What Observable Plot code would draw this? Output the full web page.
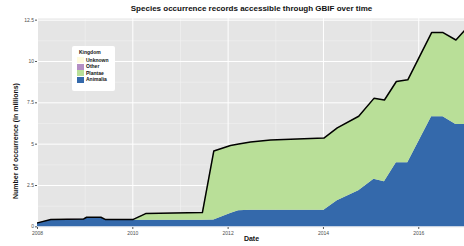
<!DOCTYPE html>
<html>
<head>
<meta charset="utf-8">
<script src="https://cdn.jsdelivr.net/npm/d3@7"></script>
<script src="https://cdn.jsdelivr.net/npm/@observablehq/plot@0.6"></script>
<style>
  html, body { margin: 0; padding: 0; background: #fff; }
  #wrap { position: relative; width: 464px; height: 246px; overflow: hidden; font-family: "Liberation Sans", Arial, sans-serif; }
  .title { position: absolute; left: 0; width: 503px; top: 4px; text-align: center; font-weight: bold; font-size: 8px; color: #111; white-space: nowrap; }
  .xlab { position: absolute; left: 0; width: 503px; top: 235px; text-align: center; font-weight: bold; font-size: 7px; color: #111; }
  .ylab { position: absolute; left: 15px; top: 141px; transform: translate(-50%, -50%) rotate(-90deg); font-weight: bold; font-size: 7px; color: #111; white-space: nowrap; }
  .legend { position: absolute; left: 72px; top: 46px; width: 43px; height: 45px; background: #fff; border-radius: 2px; }
  .legend .lt { position: absolute; left: 7px; top: 3px; font-weight: bold; font-size: 5px; color: #111; }
  .legend .row { position: absolute; left: 5px; height: 6px; }
  .legend .sw { position: absolute; left: 0; top: 0; width: 7px; height: 6px; }
  .legend .lb { position: absolute; left: 9px; top: -0.5px; font-size: 5px; font-weight: bold; color: #111; white-space: nowrap; line-height: 7px; }
</style>
</head>
<body>
<div id="wrap"></div>
<script>
// ---- data ----
const dates = [2008.0, 2008.28, 2008.97, 2009.03, 2009.33, 2009.43, 2010.0, 2010.27, 2011.46, 2011.70, 2012.05, 2012.22, 2012.47, 2012.89, 2014.01, 2014.29, 2014.74, 2015.06, 2015.28, 2015.53, 2015.77, 2016.27, 2016.51, 2016.78, 2016.97];
const animalia = [0.21, 0.41, 0.45, 0.55, 0.55, 0.41, 0.40, 0.40, 0.40, 0.42, 0.80, 0.98, 1.00, 1.00, 1.01, 1.58, 2.18, 2.88, 2.72, 3.88, 3.88, 6.66, 6.66, 6.19, 6.19];
const plantae  = [0.01, 0.01, 0.01, 0.01, 0.01, 0.01, 0.02, 0.38, 0.44, 4.15, 4.10, 4.01, 4.11, 4.23, 4.34, 4.39, 4.49, 4.87, 4.93, 4.89, 4.99, 5.07, 5.07, 5.09, 5.69];
const other    = [0.01, 0.01, 0.01, 0.01, 0.01, 0.01, 0.01, 0.01, 0.01, 0.01, 0.01, 0.01, 0.01, 0.01, 0.01, 0.01, 0.01, 0.01, 0.01, 0.01, 0.01, 0.01, 0.01, 0.01, 0.01];
const unknown  = [0.01, 0.01, 0.01, 0.01, 0.01, 0.01, 0.01, 0.01, 0.01, 0.01, 0.01, 0.01, 0.01, 0.01, 0.01, 0.01, 0.01, 0.01, 0.01, 0.01, 0.01, 0.01, 0.01, 0.01, 0.01];
const kingdoms = ["Unknown", "Other", "Plantae", "Animalia"];
const kingdomColors = ["#fffbdc", "#b48fc4", "#b9df98", "#3469ab"];
const yTicks = [0, 2.5, 5, 7.5, 10, 12.5];
const yTickLabels = ["0", "2.5", "5", "7.5", "10", "12.5"];
const xTicks = [2008, 2010, 2012, 2014, 2016];
const yMinor = [1.25, 3.75, 6.25, 8.75, 11.25];
const xMinor = [2009, 2011, 2013, 2015];
const titleText = "Species occurrence records accessible through GBIF over time";
const xLabel = "Date";
const yLabel = "Number of occurrence (in millions)";

// long table for stacking (bottom to top)
const series = {Animalia: animalia, Plantae: plantae, Other: other, Unknown: unknown};
const stackOrder = ["Animalia", "Plantae", "Other", "Unknown"];
const long = [];
for (const k of stackOrder) dates.forEach((d, i) => long.push({date: d, value: series[k][i], kingdom: k}));
const totals = dates.map((d, i) => ({date: d, value: stackOrder.reduce((s, k) => s + series[k][i], 0)}));

const chart = Plot.plot({
  width: 464,
  height: 246,
  marginLeft: 37,
  marginRight: 0,
  marginTop: 18,
  marginBottom: 19,
  style: {fontFamily: "Liberation Sans, Arial, sans-serif", background: "transparent", overflow: "visible"},
  x: {domain: [2008, 2016.96]},
  y: {domain: [-0.04, 12.6]},
  color: {domain: kingdoms, range: kingdomColors},
  marks: [
    Plot.frame({fill: "#e5e5e5", stroke: null}),
    Plot.ruleY(yMinor, {stroke: "#f2f2f2", strokeWidth: 0.6}),
    Plot.ruleX(xMinor, {stroke: "#f2f2f2", strokeWidth: 0.6}),
    Plot.ruleY(yTicks, {stroke: "#ffffff", strokeWidth: 1}),
    Plot.ruleX(xTicks, {stroke: "#ffffff", strokeWidth: 1}),
    Plot.areaY(long, {x: "date", y: "value", fill: "kingdom", order: stackOrder, clip: true}),
    Plot.lineY(totals, {x: "date", y: "value", stroke: "#000", strokeWidth: 1.5, clip: true}),
    Plot.axisY(yTicks, {tickFormat: (d, i) => yTickLabels[yTicks.indexOf(d)], tickSize: 2, tickPadding: 1.5, fontSize: 5, stroke: "#555", color: "#4d4d4d", label: null}),
    Plot.axisX(xTicks, {tickFormat: d => String(d), tickSize: 2, tickPadding: 1.5, fontSize: 5, stroke: "#555", color: "#4d4d4d", label: null})
  ]
});

const wrap = document.getElementById("wrap");
wrap.appendChild(chart);

function div(cls, text) { const e = document.createElement("div"); e.className = cls; if (text != null) e.textContent = text; return e; }
wrap.appendChild(div("title", titleText));
wrap.appendChild(div("xlab", xLabel));
wrap.appendChild(div("ylab", yLabel));

const leg = div("legend");
leg.appendChild(div("lt", "Kingdom"));
kingdoms.forEach((k, i) => {
  const row = div("row");
  row.style.top = (11 + i * 6.5) + "px";
  const sw = div("sw"); sw.style.background = kingdomColors[i];
  row.appendChild(sw);
  row.appendChild(div("lb", k));
  leg.appendChild(row);
});
wrap.appendChild(leg);
</script>
</body>
</html>
